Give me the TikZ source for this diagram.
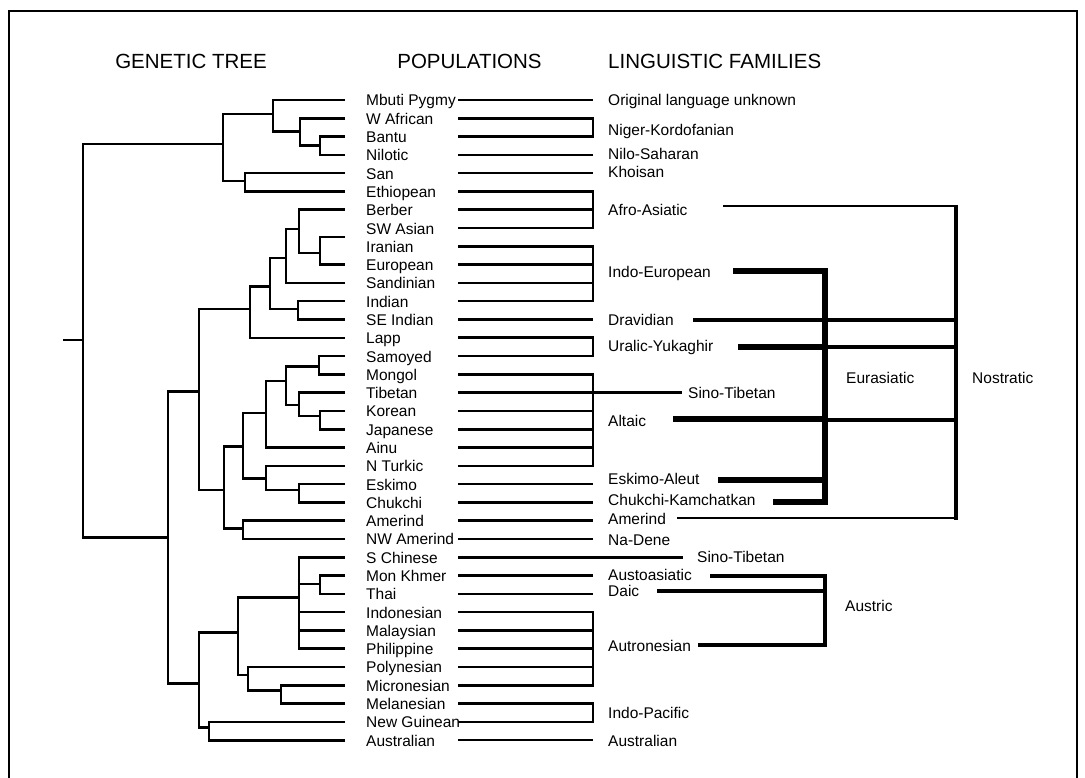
\documentclass[tikz,border=0pt]{standalone}
\usepackage{fontspec}
\setmainfont{Liberation Sans}
\newcommand{\labelfont}{\fontsize{15.5}{18}\selectfont}
\newcommand{\headfont}{\fontsize{20.5}{24}\selectfont}
\newcommand{\rowy}[1]{100+18.29*#1}

\tikzset{
  pop/.style={anchor=base west, inner sep=0pt, font=\labelfont},
  fam/.style={anchor=base west, inner sep=0pt, font=\labelfont},
  head/.style={anchor=base, inner sep=0pt, font=\headfont},
  branch/.style={line width=2.6pt},
  link/.style={line width=2.6pt},
  thinlink/.style={line width=2.3pt},
  nostlink/.style={line width=4pt},
  eurlink/.style={line width=6pt},
}

\begin{document}
\begin{tikzpicture}[x=1pt, y=-1pt]
    \useasboundingbox (0,0) rectangle (1085,778);
    \fill[white] (0,0) rectangle (1085,778);
    \draw[line width=2pt] (9,790) -- (9,11) -- (1077,11) -- (1077,790);

    % Headings
    \node[head] (hgen) at (191,69) {GENETIC TREE};
    \node[head] (hpop) at (469.5,69) {POPULATIONS};
    \node[head, anchor=base west] (hling) at (608,69) {LINGUISTIC FAMILIES};

    % Populations
    \foreach \lab [count=\i from 0] in {Mbuti Pygmy, W African, Bantu, Nilotic, San,
        Ethiopean, Berber, SW Asian, Iranian, European, Sandinian, Indian, SE Indian,
        Lapp, Samoyed, Mongol, Tibetan, Korean, Japanese, Ainu, N Turkic, Eskimo,
        Chukchi, Amerind, NW Amerind, S Chinese, Mon Khmer, Thai, Indonesian,
        Malaysian, Philippine, Polynesian, Micronesian, Melanesian, New Guinean,
        Australian}
        \node[pop] (p\i) at (366,{\rowy{\i}+6}) {\lab};

    % Genetic tree
    \draw[branch] (63,340) -- (83,340);
    \draw[branch] (223,144) -| (83,537.7) -- (168,537.7);
    \draw[branch] (345,136.6) -| (320,154.9) -- (345,154.9);
    \draw[branch] (345,118.3) -| (300,145.7) -- (320,145.7);
    \draw[branch] (345,100) -| (273,131.7) -- (300,131.7);
    \draw[branch] (345,173.2) -| (245,191.5) -- (345,191.5);
    \draw[branch] (273,114) -| (223,181) -- (245,181);
    \draw[branch] (345,237.2) -| (320,264.6) -- (345,264.6);
    \draw[branch] (345,209.7) -| (299,253) -- (320,253);
    \draw[branch] (299,229) -| (286,282.9) -- (345,282.9);
    \draw[branch] (345,301.2) -| (298,319.5) -- (345,319.5);
    \draw[branch] (286,258) -| (270,309) -- (298,309);
    \draw[branch] (270,286.7) -| (250,337.8) -- (345,337.8);
    \draw[branch] (345,356.1) -| (319,374.4) -- (345,374.4);
    \draw[branch] (345,410.9) -| (320,429.2) -- (345,429.2);
    \draw[branch] (345,392.6) -| (299,416) -- (320,416);
    \draw[branch] (319,366.7) -| (286,405) -- (299,405);
    \draw[branch] (286,381) -| (266,447.5) -- (345,447.5);
    \draw[branch] (345,484.1) -| (299,502.4) -- (345,502.4);
    \draw[branch] (345,465.8) -| (266,490) -- (299,490);
    \draw[branch] (266,413) -| (243,478.3) -- (266,478.3);
    \draw[branch] (345,520.7) -| (243,539.0) -- (345,539.0);
    \draw[branch] (243,446.7) -| (224,528.3) -- (243,528.3);
    \draw[branch] (250,309) -| (199,490) -- (224,490);
    \draw[branch] (199,391.7) -| (168,683.3) -- (199,683.3);
    \draw[branch] (345,575.5) -| (320,593.8) -- (345,593.8);
    \draw[branch] (345,557.3) -| (299,648.7) -- (345,648.7);
    \draw[branch] (299,584) -- (320,584);
    \draw[branch] (299,612.1) -- (345,612.1);
    \draw[branch] (299,630.4) -- (345,630.4);
    \draw[branch] (345,685.3) -| (281,703.6) -- (345,703.6);
    \draw[branch] (345,667.0) -| (248,690.7) -- (281,690.7);
    \draw[branch] (299,597.3) -| (238,675) -- (248,675);
    \draw[branch] (345,721.9) -| (209,740.2) -- (345,740.2);
    \draw[branch] (238,632.7) -| (199,727.3) -- (209,727.3);

    % Populations to families
    \foreach \i in {0,3,4,6,9,10,12,16,17,18,19,21,22,23,24,26,27,29,30,31,35}
        \draw[link] (458,{\rowy{\i}}) -- (593,{\rowy{\i}});
    \foreach \a/\b in {1/2,5/7,8/11,13/14,15/20,28/32,33/34}
        \draw[link] (458,{\rowy{\a}}) -| (593,{\rowy{\b}}) -- (458,{\rowy{\b}});
    \draw[link] (593,{\rowy{16}}) -- (682,{\rowy{16}});
    \draw[link] (458,{\rowy{25}}) -- (683,{\rowy{25}});

    % Linguistic families
    \node[fam] (orig) at (608,105.5) {Original language unknown};
    \node[fam] (nigerk) at (608,135.5) {Niger-Kordofanian};
    \node[fam] (nilo) at (608,159.5) {Nilo-Saharan};
    \node[fam] (khoi) at (608,177.5) {Khoisan};
    \node[fam] (afro) at (608,215.5) {Afro-Asiatic};
    \node[fam] (indoeu) at (608,277.5) {Indo-European};
    \node[fam] (drav) at (608,325.5) {Dravidian};
    \node[fam] (uralic) at (608,351.5) {Uralic-Yukaghir};
    \node[fam] (sinotib) at (688,398.5) {Sino-Tibetan};
    \node[fam] (altaic) at (608,426.5) {Altaic};
    \node[fam] (eskimo) at (608,484.5) {Eskimo-Aleut};
    \node[fam] (chukchi) at (608,505.5) {Chukchi-Kamchatkan};
    \node[fam] (amerind) at (608,524.5) {Amerind};
    \node[fam] (nadene) at (608,545.5) {Na-Dene};
    \node[fam] (sinotibb) at (697,562.5) {Sino-Tibetan};
    \node[fam] (austro) at (608,580.5) {Austoasiatic};
    \node[fam] (daic) at (608,596.5) {Daic};
    \node[fam] (autro) at (608,651.5) {Autronesian};
    \node[fam] (indopac) at (608,718.5) {Indo-Pacific};
    \node[fam] (austral) at (608,746) {Australian};

    % Nostratic
    \draw[nostlink] (956,204.8) -- (956,519.5);
    \draw[thinlink] (723,206) -- (956,206);
    \draw[nostlink] (693,320.3) -- (956,320.3);
    \draw[nostlink] (825,347) -- (956,347);
    \draw[nostlink] (825,419.7) -- (956,419.7);
    \draw[thinlink] (677,518) -- (956,518);
    \node[fam] (nostr) at (972,383.5) {Nostratic};

    % Eurasiatic
    \draw[eurlink] (733,271) -| (825,502) -- (773,502);
    \draw[eurlink] (738,347) -- (825,347);
    \draw[eurlink] (673,419) -- (825,419);
    \draw[eurlink] (718,480) -- (825,480);
    \node[fam] (eurasia) at (846,383.5) {Eurasiatic};

    % Austric
    \draw[nostlink] (710,576) -| (825,645) -- (698,645);
    \draw[nostlink] (657,590.5) -- (825,590.5);
    \node[fam] (austric) at (845,611.5) {Austric};
\end{tikzpicture}
\end{document}
